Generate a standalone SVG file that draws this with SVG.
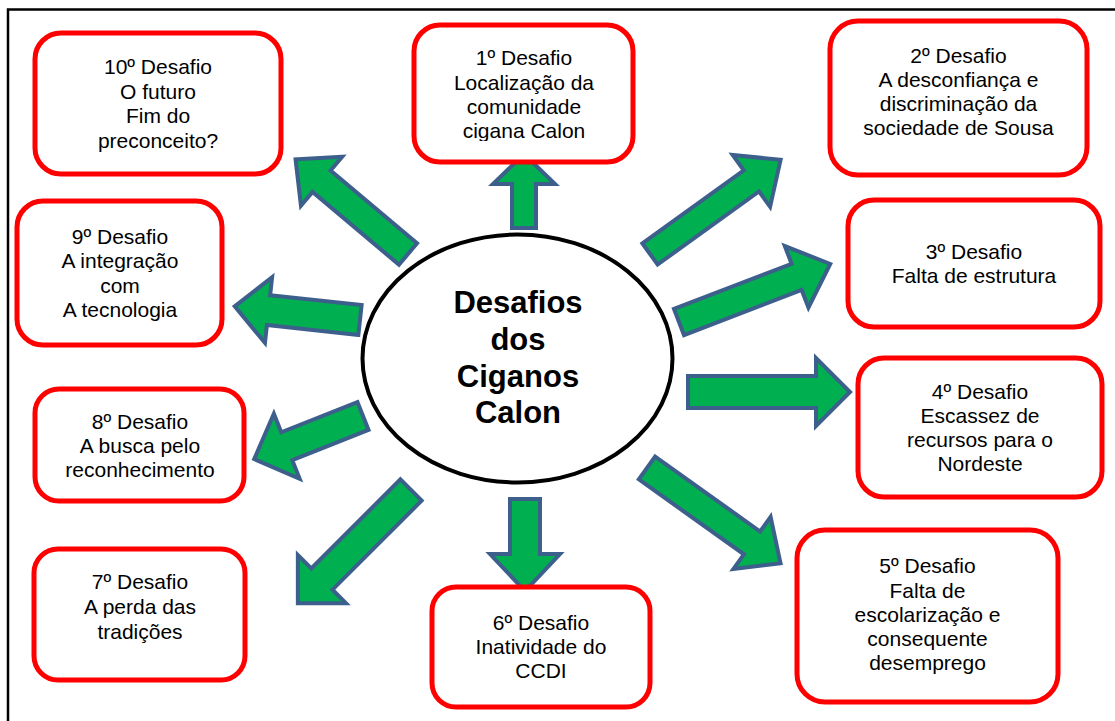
<svg xmlns="http://www.w3.org/2000/svg" width="1115" height="721" viewBox="0 0 1115 721">
  <style>
    .box { fill: #ffffff; stroke: #ff0000; stroke-width: 5; }
    .lbl { font-family: "Liberation Sans", Arial, sans-serif; font-size: 21px; fill: #000000; text-anchor: middle; }
    .hub { font-family: "Liberation Sans", Arial, sans-serif; font-size: 31px; font-weight: bold; fill: #000000; text-anchor: middle; }
    .arrow { fill: #00b050; stroke: #3c5f8c; stroke-width: 4; stroke-linejoin: miter; }
  </style>
  <defs>
    <clipPath id="clip-d1">
      <rect x="414" y="20" width="220" height="121"/>
    </clipPath>
  </defs>

  <rect width="1115" height="721" fill="#ffffff"/>
  <!-- page frame -->
  <path d="M8,721 V9.5 H1115" fill="none" stroke="#000000" stroke-width="2.5"/>

  <!-- block arrows radiating from the centre -->
  <g id="connectors">
    <!-- to 1 -->
    <polygon class="arrow" transform="translate(524,228) rotate(-90)" points="0,-12 44,-12 44,-31 74,0 44,31 44,12 0,12"/>
    <!-- to 2 -->
    <polygon class="arrow" transform="translate(650,254) rotate(-35.8)" points="0,-13 125,-13 125,-32 161,0 125,32 125,13 0,13"/>
    <!-- to 3 -->
    <polygon class="arrow" transform="translate(679,322) rotate(-21)" points="0,-14 126,-14 126,-33 162,0 126,33 126,14 0,14"/>
    <!-- to 4 -->
    <polygon class="arrow" transform="translate(688,392)" points="0,-16 128,-16 128,-34 162,0 128,34 128,16 0,16"/>
    <!-- to 5 -->
    <polygon class="arrow" transform="translate(647,468) rotate(35.5)" points="0,-14 129,-14 129,-32 164,0 129,32 129,14 0,14"/>
    <!-- to 6 -->
    <polygon class="arrow" transform="translate(525,499) rotate(90)" points="0,-15 55,-15 55,-35 92,0 55,35 55,15 0,15"/>
    <!-- to 7 -->
    <polygon class="arrow" transform="translate(411,490) rotate(135)" points="0,-15 126,-15 126,-34 160,0 126,34 126,15 0,15"/>
    <!-- to 8 -->
    <polygon class="arrow" transform="translate(363,416) rotate(158.4)" points="0,-15 82,-15 82,-35 117,0 82,35 82,15 0,15"/>
    <!-- to 9 -->
    <polygon class="arrow" transform="translate(360,320) rotate(186.2)" points="0,-15 92,-15 92,-33 126,0 92,33 92,15 0,15"/>
    <!-- to 10 -->
    <polygon class="arrow" transform="translate(408,254) rotate(220.1)" points="0,-14 113,-14 113,-32 147,0 113,32 113,14 0,14"/>
  </g>

  <!-- central ellipse -->
  <g id="hub">
    <ellipse cx="517.5" cy="358.5" rx="155" ry="124" fill="#ffffff" stroke="#000000" stroke-width="4"/>
    <text class="hub" x="518" y="313">Desafios</text>
    <text class="hub" x="518" y="350">dos</text>
    <text class="hub" x="518" y="387">Ciganos</text>
    <text class="hub" x="518" y="423">Calon</text>
  </g>

  <g id="desafio-1">
    <rect class="box" x="414" y="25" width="219" height="137" rx="26"/>
    <g clip-path="url(#clip-d1)">
      <text class="lbl" x="524" y="65">1º Desafio</text>
      <text class="lbl" x="524" y="90">Localização da</text>
      <text class="lbl" x="524" y="114">comunidade</text>
      <text class="lbl" x="524" y="138">cigana Calon</text>
    </g>
  </g>

  <g id="desafio-2">
    <rect class="box" x="830" y="21" width="257" height="154" rx="28"/>
    <text class="lbl" x="958.5" y="63">2º Desafio</text>
    <text class="lbl" x="958.5" y="87">A desconfiança e</text>
    <text class="lbl" x="958.5" y="111">discriminação da</text>
    <text class="lbl" x="958.5" y="135">sociedade de Sousa</text>
  </g>

  <g id="desafio-3">
    <rect class="box" x="848" y="200" width="252" height="127" rx="26"/>
    <text class="lbl" x="974" y="259">3º Desafio</text>
    <text class="lbl" x="974" y="283">Falta de estrutura</text>
  </g>

  <g id="desafio-4">
    <rect class="box" x="858" y="358" width="244" height="139" rx="26"/>
    <text class="lbl" x="980" y="399">4º Desafio</text>
    <text class="lbl" x="980" y="423">Escassez de</text>
    <text class="lbl" x="980" y="447">recursos para o</text>
    <text class="lbl" x="980" y="471">Nordeste</text>
  </g>

  <g id="desafio-5">
    <rect class="box" x="797" y="530" width="261" height="172" rx="28"/>
    <text class="lbl" x="927.5" y="573">5º Desafio</text>
    <text class="lbl" x="927.5" y="598">Falta de</text>
    <text class="lbl" x="927.5" y="622">escolarização e</text>
    <text class="lbl" x="927.5" y="646">consequente</text>
    <text class="lbl" x="927.5" y="670">desemprego</text>
  </g>

  <g id="desafio-6">
    <rect class="box" x="432" y="587" width="218" height="120" rx="24"/>
    <text class="lbl" x="541" y="630">6º Desafio</text>
    <text class="lbl" x="541" y="654">Inatividade do</text>
    <text class="lbl" x="541" y="678">CCDI</text>
  </g>

  <g id="desafio-7">
    <rect class="box" x="34" y="549" width="211" height="131" rx="24"/>
    <text class="lbl" x="140" y="589">7º Desafio</text>
    <text class="lbl" x="140" y="614">A perda das</text>
    <text class="lbl" x="140" y="639">tradições</text>
  </g>

  <g id="desafio-8">
    <rect class="box" x="35" y="389" width="209" height="112" rx="24"/>
    <text class="lbl" x="140" y="429">8º Desafio</text>
    <text class="lbl" x="140" y="453">A busca pelo</text>
    <text class="lbl" x="140" y="477">reconhecimento</text>
  </g>

  <g id="desafio-9">
    <rect class="box" x="17" y="201" width="205" height="144" rx="26"/>
    <text class="lbl" x="120" y="244">9º Desafio</text>
    <text class="lbl" x="120" y="268">A integração</text>
    <text class="lbl" x="120" y="293">com</text>
    <text class="lbl" x="120" y="317">A tecnologia</text>
  </g>

  <g id="desafio-10">
    <rect class="box" x="35" y="33" width="246" height="141" rx="26"/>
    <text class="lbl" x="158" y="74">10º Desafio</text>
    <text class="lbl" x="158" y="99">O futuro</text>
    <text class="lbl" x="158" y="123">Fim do</text>
    <text class="lbl" x="158" y="148">preconceito?</text>
  </g>
</svg>
